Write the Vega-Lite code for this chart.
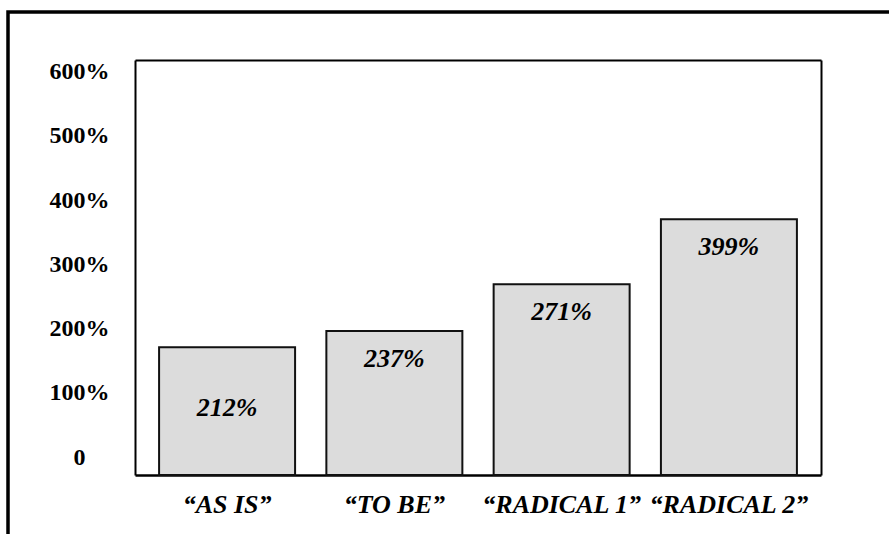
{
  "$schema": "https://vega.github.io/schema/vega-lite/v6.json",
  "width": 900,
  "height": 538,
  "autosize": {"type": "none"},
  "padding": {"left": 8, "top": 12, "right": -19, "bottom": -16},
  "background": "white",
  "config": {
    "view": {"stroke": "#000", "strokeWidth": 3.5},
    "font": "Liberation Serif"
  },
  "data": {
    "values": [
      {"scenario": "“AS IS”", "drawn": 199, "label": "212%"},
      {"scenario": "“TO BE”", "drawn": 224, "label": "237%"},
      {"scenario": "“RADICAL 1”", "drawn": 297, "label": "271%"},
      {"scenario": "“RADICAL 2”", "drawn": 398, "label": "399%"}
    ]
  },
  "layer": [
    {
      "mark": {"type": "bar", "fill": "#dcdcdc", "stroke": "#111", "strokeWidth": 2},
      "encoding": {
        "x": {
          "field": "scenario", "type": "nominal", "sort": null,
          "scale": {"range": [127, 813], "paddingInner": 0.187, "paddingOuter": 0.144},
          "axis": {
            "orient": "bottom", "offset": -75, "title": null, "labelAngle": 0,
            "ticks": false, "tickSize": 0, "labelPadding": 37, "labelBaseline": "alphabetic",
            "labelFont": "Liberation Serif", "labelFontSize": 26, "labelFontWeight": "bold",
            "labelFontStyle": "italic", "labelColor": "#000", "domainColor": "#000",
            "domainWidth": 2.5, "grid": false, "labelLimit": 0
          }
        },
        "y": {
          "field": "drawn", "type": "quantitative",
          "scale": {"domain": [0, 646], "range": [463, 48], "nice": false, "zero": true},
          "axis": {
            "orient": "left", "offset": -127, "title": null,
            "values": [0, 100, 200, 300, 400, 500, 600],
            "labelExpr": "datum.value == 0 ? '0' : datum.value + '%'",
            "ticks": false, "tickSize": 0, "labelPadding": 56, "labelAlign": "center",
            "labelOffset": -18, "labelBaseline": "middle",
            "labelFont": "Liberation Serif", "labelFontSize": 24, "labelFontWeight": "bold",
            "labelColor": "#000", "domainColor": "#000", "domainWidth": 2, "grid": false
          }
        }
      }
    },
    {
      "transform": [{"filter": "datum.label !== '212%'"}],
      "mark": {"type": "text", "font": "Liberation Serif", "fontSize": 26, "fontWeight": "bold", "fontStyle": "italic", "baseline": "alphabetic", "dy": 36, "fill": "#000"},
      "encoding": {
        "x": {
          "field": "scenario", "type": "nominal", "sort": null,
          "scale": {"range": [127, 813], "paddingInner": 0.187, "paddingOuter": 0.144},
          "axis": {"orient": "top", "offset": -48, "title": null, "labels": false, "ticks": false, "domainColor": "#000", "domainWidth": 2, "grid": false}
        },
        "y": {
          "field": "drawn", "type": "quantitative",
          "scale": {"domain": [0, 646], "range": [463, 48], "nice": false, "zero": true},
          "axis": {"orient": "right", "offset": -87, "title": null, "labels": false, "ticks": false, "domainColor": "#000", "domainWidth": 2, "grid": false}
        },
        "text": {"field": "label", "type": "nominal"}
      }
    },
    {
      "transform": [{"filter": "datum.label === '212%'"}],
      "mark": {"type": "text", "font": "Liberation Serif", "fontSize": 26, "fontWeight": "bold", "fontStyle": "italic", "baseline": "alphabetic", "dy": 69, "fill": "#000"},
      "encoding": {
        "x": {
          "field": "scenario", "type": "nominal", "sort": null,
          "scale": {"range": [127, 813], "paddingInner": 0.187, "paddingOuter": 0.144},
          "axis": null
        },
        "y": {
          "field": "drawn", "type": "quantitative",
          "scale": {"domain": [0, 646], "range": [463, 48], "nice": false, "zero": true},
          "axis": null
        },
        "text": {"field": "label", "type": "nominal"}
      }
    }
  ],
  "resolve": {"axis": {"x": "independent", "y": "independent"}}
}
